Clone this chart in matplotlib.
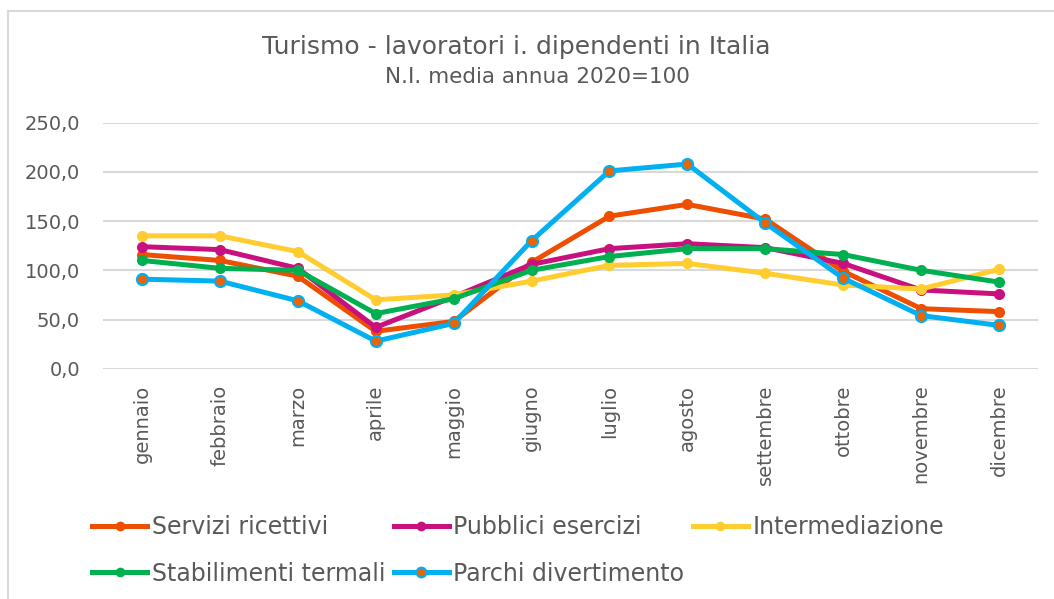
import matplotlib
matplotlib.use("Agg")
import matplotlib.pyplot as plt
from matplotlib.lines import Line2D

months = ["gennaio", "febbraio", "marzo", "aprile", "maggio", "giugno",
          "luglio", "agosto", "settembre", "ottobre", "novembre", "dicembre"]
servizi = [116, 110, 94, 38, 48, 108, 155, 167, 152, 99, 61, 58]
pubblici = [124, 121, 102, 42, 73, 106, 122, 127, 123, 107, 80, 76]
intermediazione = [135, 135, 119, 70, 75, 89, 105, 107, 97, 85, 81, 101]
stabilimenti = [110, 102, 100, 56, 71, 100, 114, 122, 122, 116, 100, 88]
parchi = [91, 89, 69, 28, 46, 130, 201, 208, 148, 92, 54, 44]
yticks = [0, 50, 100, 150, 200, 250]

names = ["Servizi ricettivi", "Pubblici esercizi", "Intermediazione",
         "Stabilimenti termali", "Parchi divertimento"]
series = [servizi, pubblici, intermediazione, stabilimenti, parchi]
colors = ["#EE4E00", "#C8107E", "#FFCD30", "#00B050", "#00B0F0"]
faces = ["#EE4E00", "#C8107E", "#FFCD30", "#00B050", "#E8650A"]

plt.rcParams['font.family'] = ['DejaVu Sans']
W, H = 1054, 599
fig = plt.figure(figsize=(W / 100, H / 100), dpi=100)
ax = fig.add_axes([103 / W, 1 - 368.7 / H, (1038 - 103) / W, (368.7 - 122.7) / H])

x = list(range(len(months)))
handles = []
for name, vals, c, fc in zip(names, series, colors, faces):
    ew = 1.5 if fc != c else 0
    ax.plot(x, vals, color=c, lw=3.6, marker='o', ms=8,
            markerfacecolor=fc, markeredgecolor=c, markeredgewidth=ew,
            solid_capstyle='round', zorder=3)
    handles.append(Line2D([0], [0], color=c, lw=3.6, marker='o', ms=7,
                          markerfacecolor=fc, markeredgecolor=c,
                          markeredgewidth=ew))

ax.set_xlim(-0.5, 11.5)
ax.set_ylim(0, 250)
ax.set_yticks(yticks)
ax.set_yticklabels([f"{v:.1f}".replace(".", ",") for v in yticks])
ax.set_xticks(x)
ax.set_xticklabels(months, rotation=90, va='top')
ax.tick_params(axis='y', length=0, pad=16.5, labelsize=14, labelcolor='#595959')
ax.tick_params(axis='x', length=0, pad=11.5, labelsize=14, labelcolor='#595959')
ax.grid(axis='y', color='#D9D9D9', lw=1.5, zorder=0)
ax.set_axisbelow(True)
for s in ax.spines.values():
    s.set_visible(False)

fig.text(516 / W, 1 - 47 / H, "Turismo - lavoratori i. dipendenti in Italia",
         ha='center', va='center', fontsize=18, color='#595959')
fig.text(537.5 / W, 1 - 77 / H, "N.I. media annua 2020=100",
         ha='center', va='center', fontsize=15.5, color='#595959')

# legend: column-major order so rows read correctly
order = [0, 3, 1, 4, 2]
leg = fig.legend([handles[i] for i in order], [names[i] for i in order],
                 ncol=3, loc='upper left', bbox_to_anchor=(92 / W, 1 - 515 / H),
                 frameon=False, fontsize=17, handlelength=2.33,
                 handletextpad=0.2, columnspacing=0.35, labelspacing=0.96,
                 borderpad=0, borderaxespad=0, labelcolor='#595959')

# outer chart frame
fig.add_artist(Line2D([8 / W, 8 / W], [0, 1 - 11 / H], color='#D9D9D9', lw=1.5))
fig.add_artist(Line2D([8 / W, 1], [1 - 11 / H, 1 - 11 / H], color='#D9D9D9', lw=1.5))

fig.savefig("out.png", dpi=100, facecolor='white')
